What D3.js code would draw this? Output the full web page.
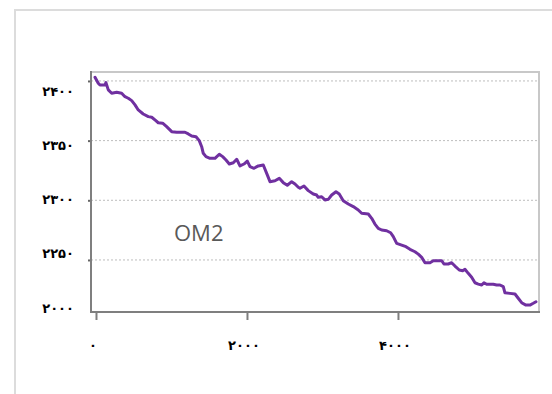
<!DOCTYPE html>
<html>
<head>
<meta charset="utf-8">
<script src="https://cdn.jsdelivr.net/npm/d3@7"></script>
<style>
  html, body { margin: 0; padding: 0; background: #fff; }
  svg { display: block; }
  .lbl { font-family: "DejaVu Sans", sans-serif; font-weight: bold; font-size: 13px; fill: #000; letter-spacing: 1.5px; }
</style>
</head>
<body>
<svg id="chart" width="552" height="394"></svg>
<script>
// Series: position along the run vs. measured level
const xValues = [-13, 30, 53, 119, 132, 163, 208, 274, 340, 384, 428, 473, 517, 560, 626, 693, 738, 781, 825, 883,
  936, 1003, 1069, 1179, 1223, 1268, 1325, 1368, 1400, 1421, 1457, 1510, 1576, 1633, 1678, 1722, 1766, 1819, 1864, 1907,
  1960, 2004, 2040, 2093, 2150, 2216, 2261, 2305, 2371, 2428, 2481, 2534, 2592, 2636, 2680, 2702, 2755, 2812, 2878, 2923,
  2944, 2989, 3033, 3077, 3122, 3179, 3222, 3275, 3342, 3408, 3474, 3519, 3607, 3652, 3695, 3739, 3784, 3850, 3903, 3938,
  3983, 4049, 4106, 4159, 4225, 4269, 4314, 4358, 4424, 4468, 4579, 4609, 4666, 4711, 4755, 4812, 4857, 4887, 4931, 4976,
  5020, 5064, 5109, 5139, 5175, 5262, 5307, 5351, 5395, 5417, 5483, 5550, 5593, 5638, 5695, 5748, 5792, 5828];
const yValues = [2403.1, 2398.1, 2396.6, 2396.6, 2398.6, 2392.5, 2389.7, 2390.5, 2389.7, 2386.8, 2385.5, 2383.5, 2379.9, 2375.7, 2372.3, 2370.1, 2369.6, 2367.3, 2365.0, 2364.6,
  2361.7, 2357.5, 2357.0, 2357.0, 2355.6, 2353.9, 2353.3, 2350.0, 2344.9, 2339.4, 2336.6, 2335.2, 2335.2, 2338.6, 2336.6, 2333.8, 2330.4, 2331.5, 2334.4, 2328.8,
  2330.4, 2332.9, 2328.2, 2326.8, 2328.8, 2329.6, 2322.6, 2315.6, 2316.4, 2318.4, 2314.8, 2312.6, 2315.6, 2313.7, 2310.9, 2310.1, 2312.0, 2308.1, 2305.3, 2304.4,
  2302.5, 2303.0, 2300.3, 2300.8, 2304.4, 2307.2, 2305.3, 2299.7, 2296.9, 2294.7, 2291.9, 2289.1, 2288.5, 2284.9, 2280.1, 2276.5, 2275.1, 2274.5, 2272.8, 2269.5,
  2263.9, 2262.5, 2261.1, 2258.9, 2256.9, 2254.9, 2252.2, 2247.7, 2247.7, 2249.4, 2249.4, 2246.6, 2246.6, 2247.7, 2244.9, 2241.6, 2241.0, 2242.2, 2238.8, 2235.5,
  2230.9, 2229.8, 2229.0, 2230.9, 2229.6, 2229.6, 2229.0, 2229.0, 2227.6, 2222.5, 2222.0, 2221.5, 2217.9, 2214.2, 2212.2, 2212.2, 2213.7, 2215.0];

const seriesName = "OM2";

// Axis ticks and their printed labels (Persian digits)
const xTickValues = [0, 2000, 4000];
const xTickLabels = ["۰", "۲۰۰۰", "۴۰۰۰"];
const yGridValues = [2400, 2350, 2300, 2250];
const yTickLabels = ["۲۴۰۰", "۲۳۵۰", "۲۳۰۰", "۲۲۵۰", "۲۰۰۰"];

const svg = d3.select("#chart");
const plot = { left: 91, top: 72, right: 539, bottom: 312 };

const x = d3.scaleLinear().domain([-66, 5868]).range([plot.left, plot.right]);
const y = d3.scaleLinear().domain([2206.4, 2407.5]).range([plot.bottom, plot.top]);

// Outer chart frame
svg.append("path")
  .attr("d", `M15,394 V10 H552`)
  .attr("fill", "none").attr("stroke", "#dcdcdc").attr("stroke-width", 2);

// Horizontal dotted gridlines
svg.append("g").selectAll("line").data(yGridValues).join("line")
  .attr("x1", plot.left).attr("x2", plot.right)
  .attr("y1", d => y(d)).attr("y2", d => y(d))
  .attr("stroke", "#bdbdbd").attr("stroke-width", 1).attr("stroke-dasharray", "2,2");

// Plot border: light top/right, dark left/bottom
svg.append("path")
  .attr("d", `M${plot.left},${plot.top} H${plot.right} V${plot.bottom}`)
  .attr("fill", "none").attr("stroke", "#c8c8c8").attr("stroke-width", 2);

// Left axis with short outward ticks at the gridlines
const yAxis = d3.axisLeft(y).tickValues(yGridValues).tickSize(3).tickFormat("");
svg.append("g").attr("transform", `translate(${plot.left},0)`).call(yAxis)
  .call(g => g.select(".domain").remove())
  .call(g => g.selectAll(".tick line").attr("stroke", "#666").attr("stroke-width", 2));

svg.append("line")
  .attr("x1", plot.left).attr("x2", plot.left)
  .attr("y1", plot.top - 1).attr("y2", plot.bottom)
  .attr("stroke", "#7f7f7f").attr("stroke-width", 2);

// Bottom axis
const xAxis = d3.axisBottom(x).tickValues(xTickValues).tickSize(8).tickFormat("");
svg.append("g").attr("transform", `translate(0,${plot.bottom})`).call(xAxis)
  .call(g => g.select(".domain").remove())
  .call(g => g.selectAll(".tick line").attr("stroke", "#7f7f7f").attr("stroke-width", 2));

svg.append("line")
  .attr("x1", plot.left - 1).attr("x2", plot.right + 1)
  .attr("y1", plot.bottom).attr("y2", plot.bottom)
  .attr("stroke", "#7f7f7f").attr("stroke-width", 2);

// Y labels, evenly stacked down the left side
const yLabelPos = d3.scalePoint().domain(yTickLabels).range([91, 308]);
svg.append("g").selectAll("text").data(yTickLabels).join("text")
  .attr("class", "lbl")
  .attr("x", 74)
  .attr("y", d => yLabelPos(d))
  .attr("dy", "0.35em")
  .attr("text-anchor", "end")
  .text(d => d);

// X labels under the ticks
svg.append("g").selectAll("text").data(xTickValues).join("text")
  .attr("class", "lbl")
  .attr("x", d => x(d) - 3)
  .attr("y", 345)
  .attr("dy", "0.35em")
  .attr("text-anchor", "middle")
  .text((d, i) => xTickLabels[i]);

// Data line
const pts = xValues.map((v, i) => [v, yValues[i]]);
svg.append("path")
  .datum(pts)
  .attr("fill", "none")
  .attr("stroke", "#7030a0")
  .attr("stroke-width", 3)
  .attr("stroke-linejoin", "round")
  .attr("stroke-linecap", "round")
  .attr("d", d3.line().x(d => x(d[0])).y(d => y(d[1])));

// Series caption inside the plot
svg.append("text")
  .attr("x", 174).attr("y", 241)
  .attr("font-family", "'Open Sans', sans-serif")
  .attr("font-size", 22)
  .attr("fill", "#595959")
  .text(seriesName);
</script>
</body>
</html>
